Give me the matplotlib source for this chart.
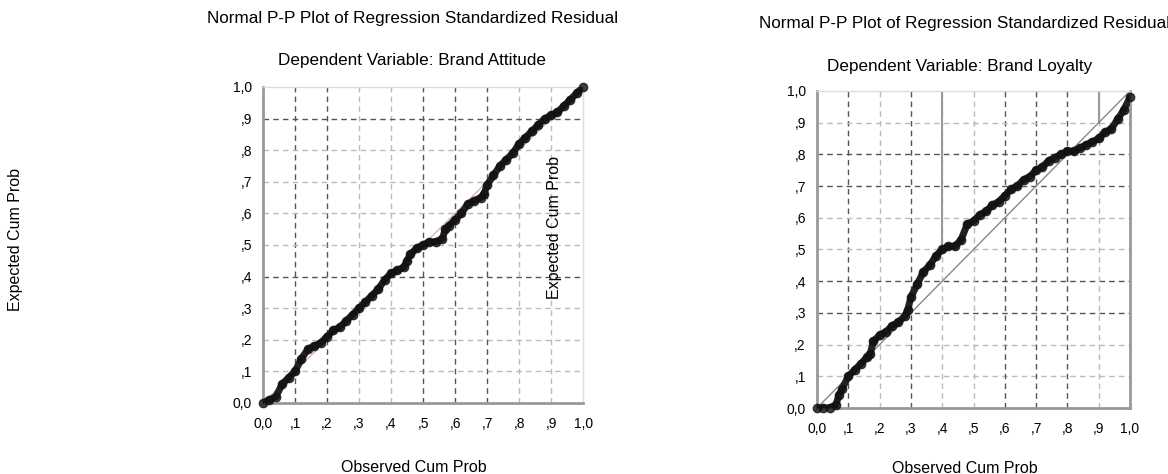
import numpy as np
import matplotlib.pyplot as plt

plt.rcParams['font.family'] = ['Liberation Sans', 'DejaVu Sans']

# observed vs expected cumulative probabilities
att_obs = [0.0, 0.02, 0.04, 0.06, 0.08, 0.10, 0.12, 0.14, 0.16, 0.18, 0.20, 0.22, 0.24,
           0.26, 0.28, 0.30, 0.32, 0.34, 0.36, 0.38, 0.40, 0.42, 0.44, 0.45, 0.46, 0.48,
           0.50, 0.52, 0.54, 0.56, 0.57, 0.58, 0.60, 0.62, 0.64, 0.66, 0.68, 0.69, 0.70,
           0.72, 0.74, 0.76, 0.78, 0.80, 0.82, 0.84, 0.86, 0.88, 0.90, 0.92, 0.94, 0.96,
           0.98, 1.0]
att_exp = [0.0, 0.01, 0.02, 0.06, 0.08, 0.10, 0.14, 0.17, 0.18, 0.19, 0.21, 0.23, 0.24,
           0.26, 0.28, 0.30, 0.32, 0.34, 0.36, 0.39, 0.41, 0.42, 0.43, 0.45, 0.47, 0.49,
           0.50, 0.51, 0.51, 0.52, 0.55, 0.56, 0.58, 0.60, 0.63, 0.64, 0.65, 0.66, 0.69,
           0.72, 0.75, 0.77, 0.79, 0.82, 0.84, 0.86, 0.88, 0.90, 0.91, 0.92, 0.94, 0.96,
           0.98, 1.0]

loy_obs = [0.0, 0.02, 0.04, 0.06, 0.07, 0.08, 0.10, 0.12, 0.14, 0.16, 0.17, 0.18, 0.20,
           0.22, 0.24, 0.26, 0.28, 0.29, 0.30, 0.32, 0.34, 0.36, 0.38, 0.40, 0.42, 0.44,
           0.46, 0.48, 0.50, 0.52, 0.54, 0.56, 0.58, 0.60, 0.62, 0.64, 0.66, 0.68, 0.70,
           0.72, 0.74, 0.76, 0.78, 0.80, 0.82, 0.84, 0.86, 0.88, 0.90, 0.92, 0.94, 0.96,
           0.98, 1.0]
loy_exp = [0.0, 0.0, 0.0, 0.01, 0.04, 0.06, 0.10, 0.12, 0.14, 0.16, 0.17, 0.21, 0.23,
           0.24, 0.26, 0.27, 0.29, 0.31, 0.35, 0.39, 0.43, 0.45, 0.48, 0.50, 0.51, 0.51,
           0.53, 0.58, 0.59, 0.61, 0.62, 0.64, 0.65, 0.67, 0.69, 0.70, 0.72, 0.73, 0.75,
           0.76, 0.78, 0.79, 0.80, 0.81, 0.81, 0.82, 0.83, 0.84, 0.85, 0.87, 0.88, 0.91,
           0.94, 0.98]

ticks = [0.0, 0.1, 0.2, 0.3, 0.4, 0.5, 0.6, 0.7, 0.8, 0.9, 1.0]
tick_labels = ['0,0', ',1', ',2', ',3', ',4', ',5', ',6', ',7', ',8', ',9', '1,0']

fig = plt.figure(figsize=(11.68, 4.74), dpi=100)
ax1 = fig.add_axes([0.2252, 0.1498, 0.274, 0.6667])
ax2 = fig.add_axes([0.6995, 0.1392, 0.268, 0.669])


def style(ax, dark_y, dark_x):
    ax.set_xlim(0, 1.0)
    ax.set_ylim(0, 1.0)
    ax.set_xticks(ticks)
    ax.set_yticks(ticks)
    ax.set_xticklabels(tick_labels, fontsize=10)
    ax.set_yticklabels(tick_labels, fontsize=10)
    ax.tick_params(axis='x', length=0, pad=10)
    ax.tick_params(axis='y', length=0, pad=8)
    for t in ticks[1:-1]:
        c = '#555555' if t in dark_y else '#bbbbbb'
        ax.axhline(t, color=c, lw=1.0, ls=(0, (4, 3)), zorder=1)
        c = '#555555' if t in dark_x else '#bbbbbb'
        ax.axvline(t, color=c, lw=1.0, ls=(0, (4, 3)), zorder=1)
    for s in ['left', 'bottom']:
        ax.spines[s].set_color('#999999')
        ax.spines[s].set_linewidth(2)
    for s in ['top', 'right']:
        ax.spines[s].set_color('#dddddd')
        ax.spines[s].set_linewidth(1)


style(ax1, [0.9, 0.4], [0.1, 0.2, 0.5, 0.6, 0.7])
style(ax2, [0.8, 0.7, 0.4, 0.3], [0.1, 0.3, 0.6, 0.7, 0.8])
ax2.spines['right'].set_color('#999999')
ax2.spines['right'].set_linewidth(2)
ax2.axvline(0.4, ymin=0.5, ymax=1.0, color='#999999', lw=1.5, zorder=1)
ax2.axvline(0.9, ymin=0.9, ymax=1.0, color='#999999', lw=1.5, zorder=1)

ax1.plot([0, 1], [0, 1], color='#d9a0a0', lw=0.8, zorder=2)
ax2.plot([0, 1], [0, 1], color='#888888', lw=1.0, zorder=2)

for ax, xo, ye in [(ax1, att_obs, att_exp), (ax2, loy_obs, loy_exp)]:
    ax.plot(xo, ye, color='#222222', lw=5, solid_capstyle='round', zorder=3)
    ax.plot(xo, ye, 'o', color='#111111', ms=6, alpha=0.8, zorder=4, clip_on=False)

fig.text(0.353, 0.962, 'Normal P-P Plot of Regression Standardized Residual',
         ha='center', va='center', fontsize=12.3)
fig.text(0.353, 0.873, 'Dependent Variable: Brand Attitude',
         ha='center', va='center', fontsize=12.3)
fig.text(0.826, 0.950, 'Normal P-P Plot of Regression Standardized Residual',
         ha='center', va='center', fontsize=12.3)
fig.text(0.822, 0.860, 'Dependent Variable: Brand Loyalty',
         ha='center', va='center', fontsize=12.3)

fig.text(0.013, 0.494, 'Expected Cum Prob', rotation=90,
         ha='center', va='center', fontsize=11.5)
fig.text(0.475, 0.519, 'Expected Cum Prob', rotation=90,
         ha='center', va='center', fontsize=11.5)
fig.text(0.354, 0.013, 'Observed Cum Prob', ha='center', va='center', fontsize=11.5)
fig.text(0.826, 0.012, 'Observed Cum Prob', ha='center', va='center', fontsize=11.5)

fig.savefig('out.png', dpi=100)
